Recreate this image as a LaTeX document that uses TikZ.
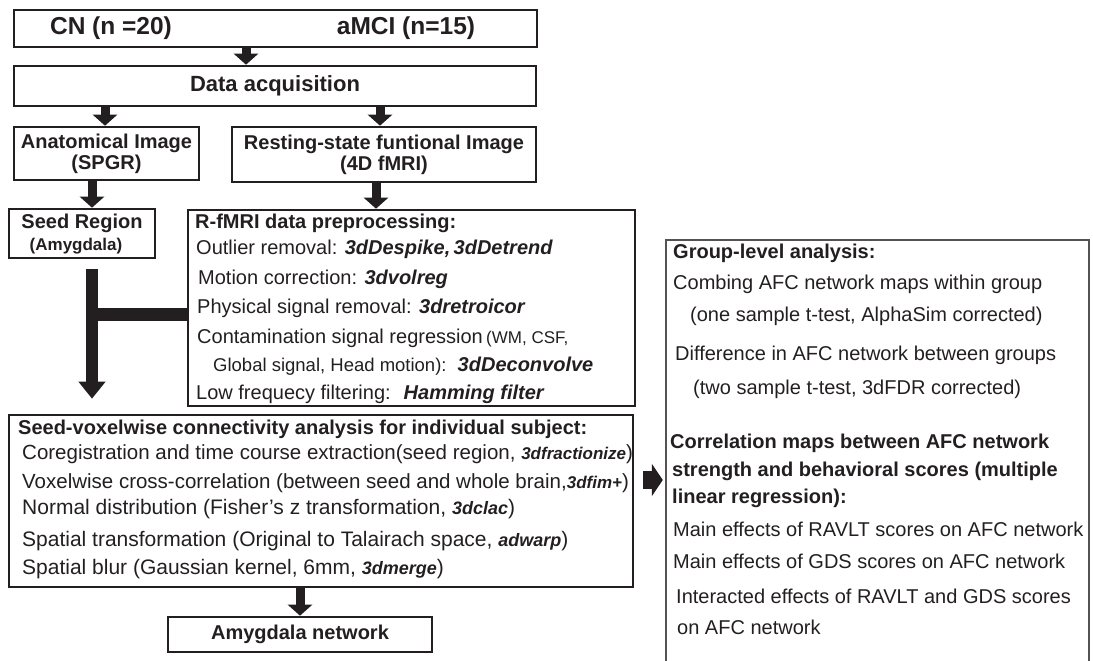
\documentclass[tikz,border=0pt]{standalone}
\usepackage{fontspec}
\setmainfont{Liberation Sans}
\usetikzlibrary{arrows.meta}

\definecolor{ink}{RGB}{35,31,32}
\definecolor{thinink}{RGB}{85,82,82}
\newcommand\prog[1]{\textbf{\textit{#1}}}
\newcommand\fsbody{\fontsize{20}{21}\selectfont}
\newcommand\fslarge{\fontsize{22}{24}\selectfont}
\newcommand\fssmall{\fontsize{17}{19}\selectfont}
\newcommand\fsprog{\fontsize{18}{19}\selectfont}

\tikzset{
    box/.style={draw=ink, line width=2.6pt, inner sep=0pt, align=center, text=ink, font=\fsbody\bfseries},
    txt/.style={anchor=west, inner sep=0pt, text height=16pt, text depth=4pt, text=ink, font=\fsbody},
    head/.style={txt, font=\fsbody\bfseries},
    fatarrow/.style={draw=ink, line width=9pt, -{Triangle[width=24pt,length=11pt]}},
    sidearrow/.style={draw=ink, line width=18pt, -{Triangle[width=32pt,length=11pt]}},
    bar/.style={draw=ink, line width=13pt},
}

\begin{document}
\begin{tikzpicture}[x=1pt,y=-1pt]
        \useasboundingbox (0,0) rectangle (1093,661);

        % boxes
        \node[box, minimum width=523pt, minimum height=37pt] (top) at (275.5,28.5) {};
        \node[box, minimum width=522pt, minimum height=40pt, font=\fslarge\bfseries] (acq) at (275,86) {Data acquisition};
        \node[box, minimum width=185pt, minimum height=53pt] (anat) at (106.5,153.5) {Anatomical Image\\(SPGR)};
        \node[box, minimum width=304pt, minimum height=55pt] (rest) at (384,154.5) {Resting-state funtional Image\\(4D fMRI)};
        \node[box, minimum width=146pt, minimum height=49pt] (seed) at (82,233.5) {};
        \node[box, minimum width=447pt, minimum height=196pt] (prep) at (411.5,308) {};
        \node[box, minimum width=624pt, minimum height=172pt] (voxel) at (321,501) {};
        \node[box, minimum width=264pt, minimum height=35pt] (amyg) at (300,634.5) {Amygdala network};
        \node[inner sep=0pt, minimum width=423pt, minimum height=421pt] (grp) at (877.5,450.5) {};
        \draw[thinink, line width=1.5pt] (grp.south west) -- (grp.north west) -- (grp.north east) -- (grp.south east);

        \node[head, anchor=center, font=\fontsize{24.5}{26}\selectfont\bfseries] (cn) at (111,29) {CN (n =20)};
        \node[head, anchor=center, font=\fontsize{24.5}{26}\selectfont\bfseries] (mci) at (406,29) {aMCI (n=15)};
        \node[head, anchor=center] (s1) at (82,222) {Seed Region};
        \node[head, anchor=center, font=\fssmall\bfseries] (s2) at (76,244) {(Amygdala)};

        \node[head] (p1) at (195,222) {R-fMRI data preprocessing:};
        \node[txt] (p2) at (196,248) {Outlier removal: \prog{3dDespike,\,3dDetrend}};
        \node[txt] (p3) at (198,278) {Motion correction: \prog{3dvolreg}};
        \node[txt] (p4) at (197,307) {Physical signal removal: \prog{3dretroicor}};
        \node[txt] (p5) at (197,337) {Contamination signal regression\,{\fssmall(WM, CSF,}};
        \node[txt] (p6) at (213,365) {{\fontsize{18.5}{19}\selectfont Global signal, Head motion):}\ \ \prog{3dDeconvolve}};
        \node[txt] (p7) at (196,393) {Low frequecy filtering: \ \prog{Hamming filter}};

        \node[head] (v1) at (18,428) {Seed-voxelwise connectivity analysis for individual subject:};
        \node[txt, font=\fontsize{20.5}{21}\selectfont] (v2) at (22,453) {Coregistration and time course extraction(seed region, {\fssmall\prog{3dfractionize}})};
        \node[txt, font=\fontsize{20.5}{21}\selectfont] (v3) at (22,482) {Voxelwise cross-correlation (between seed and whole brain,{\fssmall\prog{3dfim+}})};
        \node[txt, font=\fontsize{21}{22}\selectfont] (v4) at (22,508) {Normal distribution (Fisher's z transformation, {\fsprog\prog{3dclac}})};
        \node[txt, font=\fontsize{21}{22}\selectfont] (v5) at (22,540) {Spatial transformation (Original to Talairach space, {\fsprog\prog{adwarp}})};
        \node[txt, font=\fontsize{21}{22}\selectfont] (v6) at (22,568) {Spatial blur (Gaussian kernel, 6mm, {\fsprog\prog{3dmerge}})};

        \node[head] (g1) at (673,252) {Group-level analysis:};
        \node[txt] (g2) at (673,283) {Combing AFC network maps within group};
        \node[txt] (g3) at (690,315) {(one sample t-test, AlphaSim corrected)};
        \node[txt] (g4) at (675,354) {Difference in AFC network between groups};
        \node[txt] (g5) at (693,388) {(two sample t-test, 3dFDR corrected)};
        \node[head] (g6) at (670,442) {Correlation maps between AFC network};
        \node[head] (g7) at (672,470) {strength and behavioral scores (multiple};
        \node[head] (g8) at (672,497) {linear regression):};
        \node[txt] (g9) at (673,530) {Main effects of RAVLT scores on AFC network};
        \node[txt] (g10) at (673,562) {Main effects of GDS scores on AFC network};
        \node[txt] (g11) at (676,597) {Interacted effects of RAVLT and GDS scores};
        \node[txt] (g12) at (677,628) {on AFC network};

        % arrows
        \draw[fatarrow] ([xshift=-29.5pt]top.south) -- ([xshift=-29pt]acq.north);
        \draw[fatarrow] ([xshift=-170pt]acq.south) -- ([xshift=-1.5pt]anat.north);
        \draw[fatarrow] ([xshift=105pt]acq.south) -- ([xshift=-4pt]rest.north);
        \draw[fatarrow] ([xshift=-14.5pt]anat.south) -- ([xshift=10pt]seed.north);
        \draw[fatarrow] ([xshift=-8pt]rest.south) -- ([xshift=-35.5pt]prep.north);
        \draw[fatarrow] ([xshift=-21pt]voxel.south) -- (amyg.north);

        \coordinate (fork) at ([xshift=10pt,yshift=-55pt]seed.south);
        \coordinate (forktop) at ([xshift=10pt,yshift=-10pt]seed.south);
        \coordinate (tipL) at ([yshift=15pt]voxel.north);
        \draw[fatarrow, line width=12pt, -{Triangle[width=26pt,length=17pt]}] (forktop) -- (tipL -| fork);
        \draw[bar] (fork) -- (fork -| prep.west);

        \coordinate (sidetail) at ([xshift=9pt,yshift=21pt]voxel.east);
        \coordinate (sidehead) at ([xshift=-3pt]grp.west);
        \draw[sidearrow] (sidetail) -- (sidetail -| sidehead);

    \end{tikzpicture}
\end{document}
